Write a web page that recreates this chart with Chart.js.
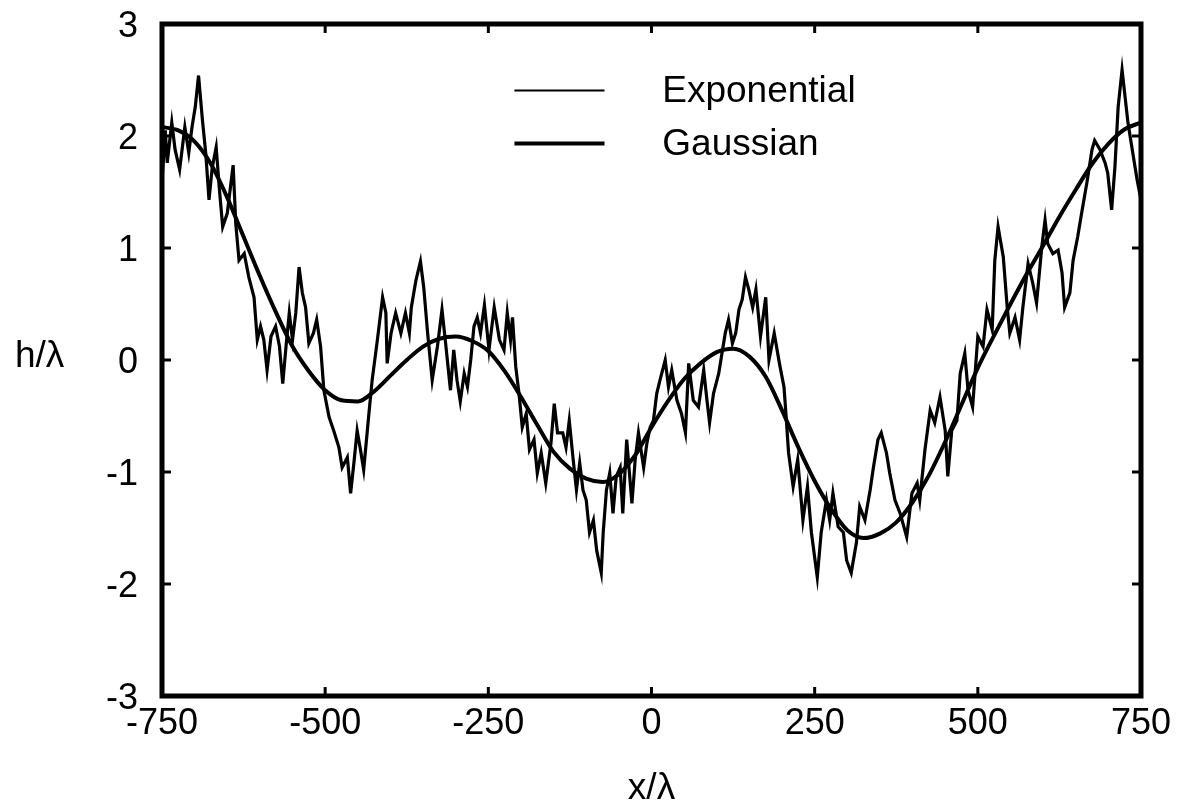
<!DOCTYPE html>
<html>
<head>
<meta charset="utf-8">
<script src="https://cdn.jsdelivr.net/npm/chart.js@4.4.1/dist/chart.umd.min.js"></script>
<style>
html, body { margin: 0; padding: 0; background: #fff; }
</style>
</head>
<body>
<canvas id="myChart" width="1178" height="807"></canvas>
<script>
// axis ticks
const xTicks = [-750, -500, -250, 0, 250, 500, 750];
const yTicks = [-3, -2, -1, 0, 1, 2, 3];
const seriesLabels = ['Exponential', 'Gaussian'];
const xTitle = 'x/\u03bb';
const yTitle = 'h/\u03bb';

// rough surface (exponential correlation)
const expX = [
    -750, -745, -742, -735, -730, -723, -715, -709, -704, -699, -694, -688, -683, -678, -673, -667,
    -662, -657, -650, -641, -637, -632, -624, -617, -609, -604, -599, -594, -589, -583, -576, -570,
    -565, -560, -555, -550, -545, -540, -535, -530, -525, -518, -513, -507, -502, -494, -487, -479,
    -474, -466, -461, -456, -451, -446, -441, -433, -428, -420, -412, -407, -405, -399, -392, -384,
    -377, -371, -368, -361, -354, -349, -343, -336, -328, -321, -316, -308, -303, -298, -293, -287,
    -282, -277, -272, -267, -262, -256, -249, -241, -233, -226, -221, -216, -213, -208, -203, -198,
    -192, -187, -180, -175, -169, -162, -154, -149, -144, -136, -131, -126, -120, -115, -110, -105,
    -100, -95, -89, -84, -77, -74, -69, -64, -59, -54, -48, -44, -38, -30, -25, -20,
    -12, -7, -2, 3, 8, 13, 21, 26, 31, 39, 46, 52, 57, 64, 72, 80,
    85, 89, 95, 103, 108, 113, 118, 124, 129, 134, 139, 144, 149, 155, 160, 167,
    175, 180, 188, 196, 203, 206, 210, 217, 224, 232, 239, 245, 254, 260, 268, 273,
    278, 286, 294, 299, 306, 314, 319, 327, 335, 340, 347, 352, 360, 365, 373, 381,
    391, 399, 407, 411, 419, 427, 434, 442, 450, 454, 460, 468, 473, 480, 485, 492,
    500, 508, 514, 522, 526, 531, 539, 545, 549, 557, 564, 569, 577, 584, 590, 598,
    603, 607, 615, 623, 629, 633, 641, 646, 653, 659, 667, 675, 679, 687, 695, 699,
    705, 710, 715, 721, 725, 730, 736, 744, 750
];
const expY = [
    1.6, 2.05, 1.76, 2.12, 1.88, 1.7, 2.08, 1.85, 2.08, 2.26, 2.54, 2.14, 1.85, 1.43, 1.72, 1.9,
    1.52, 1.19, 1.31, 1.74, 1.22, 0.89, 0.95, 0.74, 0.56, 0.18, 0.3, 0.18, -0.09, 0.21, 0.3, 0.12,
    -0.21, 0.12, 0.42, 0.18, 0.42, 0.83, 0.6, 0.47, 0.15, 0.24, 0.36, 0.12, -0.27, -0.51, -0.63, -0.78,
    -0.96, -0.87, -1.19, -0.92, -0.63, -0.8, -0.98, -0.48, -0.18, 0.18, 0.56, 0.42, -0.03, 0.24, 0.42, 0.24,
    0.42, 0.24, 0.47, 0.71, 0.88, 0.65, 0.24, -0.18, 0.12, 0.45, 0.18, -0.27, 0.09, -0.18, -0.37, -0.12,
    -0.24, 0.0, 0.3, 0.38, 0.24, 0.49, 0.09, 0.47, 0.18, 0.09, 0.42, 0.18, 0.38, -0.06, -0.3, -0.6,
    -0.48, -0.8, -0.71, -1.01, -0.83, -1.1, -0.74, -0.39, -0.65, -0.65, -0.78, -0.54, -0.89, -1.16, -0.92, -1.16,
    -1.25, -1.54, -1.43, -1.7, -1.9, -1.54, -1.16, -1.01, -1.37, -1.04, -0.96, -1.37, -0.71, -1.28, -0.89, -0.65,
    -0.96, -0.74, -0.6, -0.54, -0.3, -0.18, 0.0, -0.24, -0.09, -0.36, -0.48, -0.65, -0.03, -0.36, -0.42, -0.09,
    -0.36, -0.56, -0.3, -0.12, 0.06, 0.24, 0.36, 0.15, 0.24, 0.45, 0.54, 0.74, 0.63, 0.47, 0.63, 0.21,
    0.56, 0.0, 0.24, -0.03, -0.24, -0.48, -0.83, -1.13, -0.89, -1.43, -1.13, -1.54, -1.94, -1.54, -1.25, -1.43,
    -1.19, -1.49, -1.54, -1.79, -1.9, -1.63, -1.31, -1.43, -1.16, -0.96, -0.71, -0.65, -0.83, -1.01, -1.25, -1.37,
    -1.58, -1.19, -1.1, -1.25, -0.8, -0.45, -0.56, -0.33, -0.63, -1.04, -0.63, -0.54, -0.12, 0.06, -0.27, -0.42,
    0.21, 0.12, 0.45, 0.27, 0.89, 1.19, 0.92, 0.47, 0.24, 0.38, 0.18, 0.47, 0.86, 0.69, 0.51, 1.01,
    1.25, 1.04, 0.95, 0.98, 0.78, 0.47, 0.6, 0.89, 1.1, 1.31, 1.58, 1.88, 1.96, 1.88, 1.76, 1.67,
    1.34, 1.72, 2.26, 2.59, 2.38, 2.12, 1.9, 1.61, 1.43
];

// smooth surface (gaussian correlation)
const gaussX = [
    -750, -725, -700, -675, -650, -625, -600, -575, -550, -525, -500, -475, -450, -425, -400, -375,
    -350, -325, -300, -275, -250, -225, -200, -175, -150, -125, -100, -75, -50, -25, 0, 25,
    50, 75, 100, 125, 150, 175, 200, 225, 250, 275, 300, 325, 350, 375, 400, 425,
    450, 475, 500, 525, 550, 575, 600, 625, 650, 675, 700, 725, 750
];
const gaussY = [
    2.08, 2.05, 1.95, 1.75, 1.45, 1.1, 0.75, 0.42, 0.12, -0.1, -0.27, -0.36, -0.37, -0.28, -0.14, 0.0,
    0.12, 0.19, 0.21, 0.17, 0.08, -0.1, -0.33, -0.58, -0.82, -0.97, -1.06, -1.09, -1.02, -0.85, -0.6, -0.37,
    -0.17, -0.03, 0.07, 0.1, 0.03, -0.15, -0.45, -0.78, -1.08, -1.33, -1.52, -1.59, -1.55, -1.45, -1.27, -1.03,
    -0.73, -0.4, -0.07, 0.22, 0.5, 0.77, 1.02, 1.28, 1.52, 1.75, 1.93, 2.06, 2.12
];

const FONT = "'Liberation Sans', Arial, Helvetica, sans-serif";

function toPoints(xs, ys) {
    return xs.map((x, i) => ({ x: x, y: ys[i] }));
}

// inward ticks on all four sides, thick frame, legend and axis titles
const framePlugin = {
    id: 'frame',
    afterDraw(chart) {
        const ctx = chart.ctx;
        const a = chart.chartArea;
        const xs = chart.scales.x;
        const ys = chart.scales.y;
        const tl = 9;
        ctx.save();
        ctx.strokeStyle = '#000';
        ctx.lineWidth = 3;
        ctx.beginPath();
        xTicks.forEach(v => {
            const px = xs.getPixelForValue(v);
            ctx.moveTo(px, a.bottom);
            ctx.lineTo(px, a.bottom - tl);
            ctx.moveTo(px, a.top);
            ctx.lineTo(px, a.top + tl);
        });
        yTicks.forEach(v => {
            const py = ys.getPixelForValue(v);
            ctx.moveTo(a.left, py);
            ctx.lineTo(a.left + tl, py);
            ctx.moveTo(a.right, py);
            ctx.lineTo(a.right - tl, py);
        });
        ctx.stroke();
        ctx.lineWidth = 5;
        ctx.strokeRect(a.left, a.top, a.width, a.height);

        // legend
        ctx.fillStyle = '#000';
        ctx.font = '37px ' + FONT;
        ctx.textBaseline = 'middle';
        ctx.textAlign = 'left';
        const rows = [0.099, 0.178];
        const sampleWidths = [2, 4];
        chart.data.datasets.forEach((ds, i) => {
            const y = a.top + rows[i] * a.height;
            ctx.lineWidth = sampleWidths[i];
            ctx.beginPath();
            ctx.moveTo(a.left + 0.36 * a.width, y);
            ctx.lineTo(a.left + 0.452 * a.width, y);
            ctx.stroke();
            ctx.fillText(ds.label, a.left + 0.511 * a.width, y + 1);
        });

        // axis titles
        ctx.fillText(yTitle, 15, ys.getPixelForValue(0) - 3);
        ctx.textAlign = 'center';
        ctx.fillText(xTitle, (a.left + a.right) / 2, 789);
        ctx.restore();
    }
};

function SurfaceChart() {
    const data = {
        datasets: [
            {
                label: seriesLabels[0],
                data: toPoints(expX, expY),
                borderColor: '#000',
                borderWidth: 3.2,
                showLine: true,
                pointRadius: 0,
                tension: 0,
            },
            {
                label: seriesLabels[1],
                data: toPoints(gaussX, gaussY),
                borderColor: '#000',
                borderWidth: 4,
                showLine: true,
                pointRadius: 0,
                tension: 0.4,
                cubicInterpolationMode: 'monotone',
            }
        ]
    };
    const config = {
        type: 'scatter',
        data: data,
        options: {
            responsive: false,
            animation: false,
            devicePixelRatio: 1,
            layout: { padding: { left: 0, top: 24, right: 37, bottom: 0 } },
            plugins: {
                legend: { display: false },
                tooltip: { enabled: false },
            },
            scales: {
                x: {
                    type: 'linear',
                    min: -750,
                    max: 750,
                    afterBuildTicks: (s) => { s.ticks = xTicks.map(v => ({ value: v })); },
                    afterFit: (s) => { s.height = 111; s.paddingLeft = 0; s.paddingRight = 0; },
                    grid: { display: false, drawTicks: false },
                    border: { display: false },
                    ticks: {
                        color: '#000',
                        padding: 6,
                        maxRotation: 0,
                        font: { family: FONT, size: 36 },
                    },
                },
                y: {
                    type: 'linear',
                    min: -3,
                    max: 3,
                    afterBuildTicks: (s) => { s.ticks = yTicks.map(v => ({ value: v })); },
                    afterFit: (s) => { s.width = 162; s.paddingTop = 0; s.paddingBottom = 0; },
                    grid: { display: false, drawTicks: false },
                    border: { display: false },
                    ticks: {
                        color: '#000',
                        padding: 24,
                        labelOffset: 3,
                        font: { family: FONT, size: 36 },
                    },
                },
            },
        },
        plugins: [framePlugin],
    };
    var myChart = new Chart(document.getElementById('myChart'), config);
}

SurfaceChart();
</script>
</body>
</html>
